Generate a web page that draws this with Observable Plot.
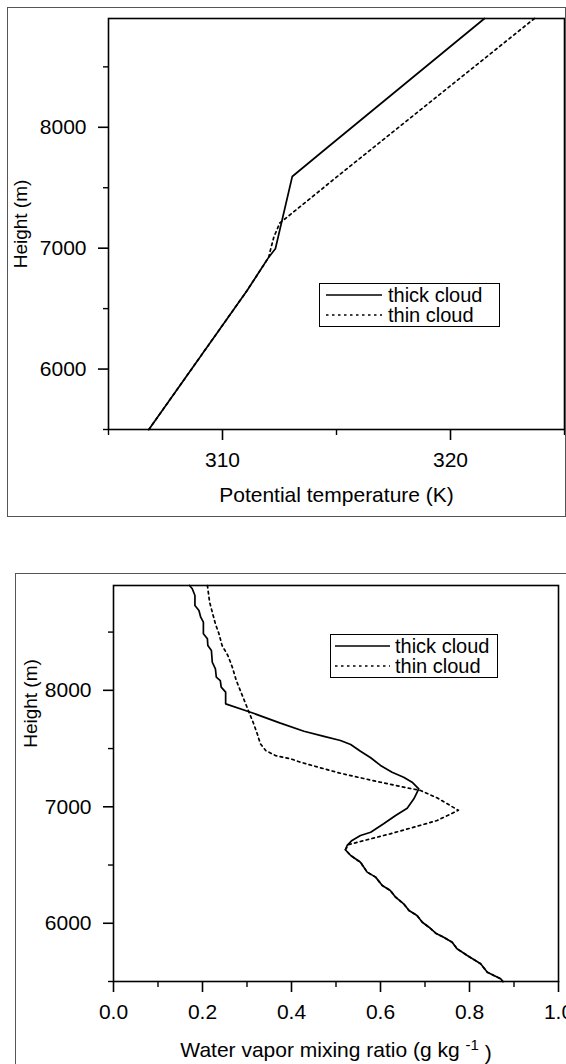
<!DOCTYPE html>
<html>
<head>
<meta charset="utf-8">
<script src="https://cdn.jsdelivr.net/npm/d3@7"></script>
<script src="https://cdn.jsdelivr.net/npm/@observablehq/plot@0.6"></script>
<style>
  html, body { margin: 0; padding: 0; background: #fff; overflow: hidden; width: 566px; height: 1064px; }
  #page { position: relative; width: 566px; height: 1064px; overflow: hidden; font-family: "Liberation Sans", Arial, Helvetica, sans-serif; color: #000; }
  .panel { position: absolute; outline: 1px solid #555; background: #fff; }
  .panel svg { display: block; max-width: none !important; }
  .legend { position: absolute; box-sizing: border-box; border: 1.5px solid #000; background: #fff; font-size: 20px; line-height: 20px; }
  .legend .row { display: flex; align-items: center; height: 20.5px; white-space: nowrap; }
  .legend .row svg { display: block; flex: none; }
</style>
</head>
<body>
<div id="page">
  <div class="panel" id="theta-panel" style="left:8px; top:8px; width:557px; height:508px;"></div>
  <div class="panel" id="mixing-panel" style="left:16px; top:574px; width:560px; height:500px;"></div>
</div>
<script>
// ---- Potential temperature profiles: [theta (K), height (m)] ----
const thickTheta = [
  [306.77, 5500], [311.08, 6650], [312.03, 6926], [312.32, 6995],
  [313.06, 7593], [314.44, 7808], [321.49, 8900]
];
const thinTheta = [
  [306.77, 5500], [311.08, 6650], [312.03, 6926], [312.10, 6983],
  [312.25, 7091], [312.51, 7207], [315.18, 7615], [323.68, 8900]
];

// ---- Water vapor mixing ratio profiles: [q (g/kg), height (m)] ----
const thickMixing = [
  [0.171, 8900], [0.177, 8872], [0.183, 8814], [0.183, 8728], [0.192, 8685],
  [0.196, 8628], [0.202, 8585], [0.202, 8485], [0.211, 8442], [0.212, 8385],
  [0.220, 8342], [0.222, 8241], [0.229, 8185], [0.231, 8113], [0.240, 8084],
  [0.242, 8027], [0.252, 7984], [0.252, 7884], [0.308, 7812], [0.375, 7718],
  [0.428, 7649], [0.473, 7604], [0.510, 7569], [0.533, 7535], [0.555, 7477],
  [0.578, 7421], [0.600, 7355], [0.626, 7297], [0.652, 7254], [0.671, 7211],
  [0.686, 7154], [0.675, 7069], [0.660, 6988], [0.634, 6925], [0.607, 6854],
  [0.578, 6782], [0.555, 6754], [0.536, 6711], [0.525, 6668], [0.521, 6631],
  [0.533, 6582], [0.555, 6524], [0.570, 6439], [0.589, 6396], [0.604, 6324],
  [0.622, 6281], [0.634, 6224], [0.652, 6167], [0.664, 6110], [0.682, 6067],
  [0.694, 6009], [0.709, 5966], [0.724, 5915], [0.742, 5880], [0.761, 5837],
  [0.772, 5781], [0.795, 5723], [0.825, 5652], [0.840, 5580], [0.870, 5523],
  [0.875, 5500]
];
const thinMixing = [
  [0.211, 8900], [0.216, 8757], [0.222, 8671], [0.229, 8571], [0.237, 8485],
  [0.244, 8385], [0.257, 8299], [0.267, 8199], [0.276, 8084], [0.285, 7998],
  [0.297, 7884], [0.306, 7798], [0.315, 7713], [0.323, 7627], [0.330, 7541],
  [0.342, 7483], [0.364, 7440], [0.398, 7412], [0.420, 7383], [0.465, 7335],
  [0.510, 7288], [0.555, 7249], [0.600, 7211], [0.645, 7174], [0.690, 7140],
  [0.727, 7077], [0.775, 6970], [0.727, 6882], [0.675, 6825], [0.622, 6768],
  [0.570, 6717], [0.529, 6676], [0.521, 6631],
  [0.533, 6582], [0.555, 6524], [0.570, 6439], [0.589, 6396], [0.604, 6324],
  [0.622, 6281], [0.634, 6224], [0.652, 6167], [0.664, 6110], [0.682, 6067],
  [0.694, 6009], [0.709, 5966], [0.724, 5915], [0.742, 5880], [0.761, 5837],
  [0.772, 5781], [0.795, 5723], [0.825, 5652], [0.840, 5580], [0.870, 5523],
  [0.875, 5500]
];

// ---- Axis settings ----
const heightDomain = [5500, 8900];
const heightMajorTicks = [6000, 7000, 8000];
const heightMinorTicks = [5500, 6500, 7500, 8500];
const thetaDomain = [305, 325];
const thetaMajorTicks = [310, 320];
const thetaMinorTicks = [305, 315, 325];
const mixingDomain = [0, 1];
const mixingMajorTicks = [0, 0.2, 0.4, 0.6, 0.8, 1.0];
const mixingMinorTicks = [0.1, 0.3, 0.5, 0.7, 0.9];

const seriesNames = ["thick cloud", "thin cloud"];
const heightLabel = "Height (m)";
const thetaLabel = "Potential temperature (K)";
const mixingLabelMain = "Water vapor mixing ratio (g kg ";
const mixingLabelExp = "-1";
const mixingLabelEnd = " )";

const FONT = '"Liberation Sans", Arial, Helvetica, sans-serif';
const DASH = "2.5,3.5";

function profilePanel({thick, thin, xDomain, xMajor, xMinor, xFormat, xLabel, width, height,
                       margins, xLabelDy, yLabelDx, yLabelDy}) {
  return Plot.plot({
    width, height,
    ...margins,
    style: {fontFamily: FONT, fontSize: "21px", color: "#000", background: "#fff", overflow: "visible"},
    x: {domain: xDomain, label: null},
    y: {domain: heightDomain, label: null},
    marks: [
      Plot.line(thick, {x: d => d[0], y: d => d[1], stroke: "#000", strokeWidth: 1.7, curve: "linear"}),
      Plot.line(thin, {x: d => d[0], y: d => d[1], stroke: "#000", strokeWidth: 1.7, strokeDasharray: DASH, curve: "linear"}),
      Plot.frame({stroke: "#000", strokeWidth: 1.6}),
      Plot.axisX({ticks: xMajor, tickSize: 11, tickPadding: 12, tickFormat: xFormat, strokeWidth: 1.6, label: null, fontSize: 21}),
      Plot.axisX({ticks: xMinor, tickSize: 6, tickFormat: () => "", strokeWidth: 1.4, label: null}),
      Plot.axisY({ticks: heightMajorTicks, tickSize: 10, tickPadding: 12, tickFormat: d => String(d), strokeWidth: 1.6, label: null, fontSize: 21}),
      Plot.axisY({ticks: heightMinorTicks, tickSize: 5, tickFormat: () => "", strokeWidth: 1.4, label: null}),
      Plot.text([xLabel], {frameAnchor: "bottom", dy: xLabelDy, text: d => d, fontSize: 21, textAnchor: "middle", lineAnchor: "middle"}),
      Plot.text([heightLabel], {frameAnchor: "left", dx: yLabelDx, dy: yLabelDy, rotate: -90, text: d => d, fontSize: 19, textAnchor: "middle", lineAnchor: "middle"})
    ]
  });
}

function legendBox({left, top, width, sampleInset, sampleLength, gap}) {
  const box = document.createElement("div");
  box.className = "legend";
  Object.assign(box.style, {left: left + "px", top: top + "px", width: width + "px", height: "44px", paddingTop: "0.5px"});
  seriesNames.forEach((name, i) => {
    const row = document.createElement("div");
    row.className = "row";
    const sample = d3.create("svg").attr("width", sampleInset + sampleLength + gap).attr("height", 20);
    sample.append("line")
      .attr("x1", sampleInset).attr("x2", sampleInset + sampleLength)
      .attr("y1", 10).attr("y2", 10)
      .attr("stroke", "#000").attr("stroke-width", 1.7)
      .attr("stroke-dasharray", i === 0 ? null : DASH);
    row.appendChild(sample.node());
    const label = document.createElement("span");
    label.textContent = name;
    row.appendChild(label);
    box.appendChild(row);
  });
  return box;
}

// Upper panel: potential temperature
const thetaPlot = profilePanel({
  thick: thickTheta, thin: thinTheta,
  xDomain: thetaDomain, xMajor: thetaMajorTicks, xMinor: thetaMinorTicks,
  xFormat: d => String(d), xLabel: thetaLabel,
  width: 557, height: 508,
  margins: {marginLeft: 100, marginRight: 1, marginTop: 10, marginBottom: 87},
  xLabelDy: 66, yLabelDx: -88, yLabelDy: 0
});
document.getElementById("theta-panel").appendChild(thetaPlot);

// Lower panel: water vapor mixing ratio
const mixingPlot = profilePanel({
  thick: thickMixing, thin: thinMixing,
  xDomain: mixingDomain, xMajor: mixingMajorTicks, xMinor: mixingMinorTicks,
  xFormat: d3.format(".1f"), xLabel: mixingLabelMain + mixingLabelExp + mixingLabelEnd,
  width: 560, height: 500,
  margins: {marginLeft: 97, marginRight: 18, marginTop: 11, marginBottom: 93},
  xLabelDy: 69, yLabelDx: -83, yLabelDy: -80
});
// raise the exponent of the unit in the x-axis title
d3.select(mixingPlot).selectAll("text")
  .filter(function () { return this.textContent === mixingLabelMain + mixingLabelExp + mixingLabelEnd; })
  .each(function () {
    const t = d3.select(this);
    t.text(null);
    t.append("tspan").text(mixingLabelMain);
    t.append("tspan").attr("dy", "-0.5em").attr("font-size", "15px").text(mixingLabelExp);
    t.append("tspan").attr("dy", "0.5em").text(mixingLabelEnd);
  });
document.getElementById("mixing-panel").appendChild(mixingPlot);

// Legends
const page = document.getElementById("page");
page.appendChild(legendBox({left: 319, top: 283, width: 181, sampleInset: 6, sampleLength: 56, gap: 6}));
page.appendChild(legendBox({left: 330, top: 634, width: 168, sampleInset: 4, sampleLength: 55, gap: 5}));
</script>
</body>
</html>
